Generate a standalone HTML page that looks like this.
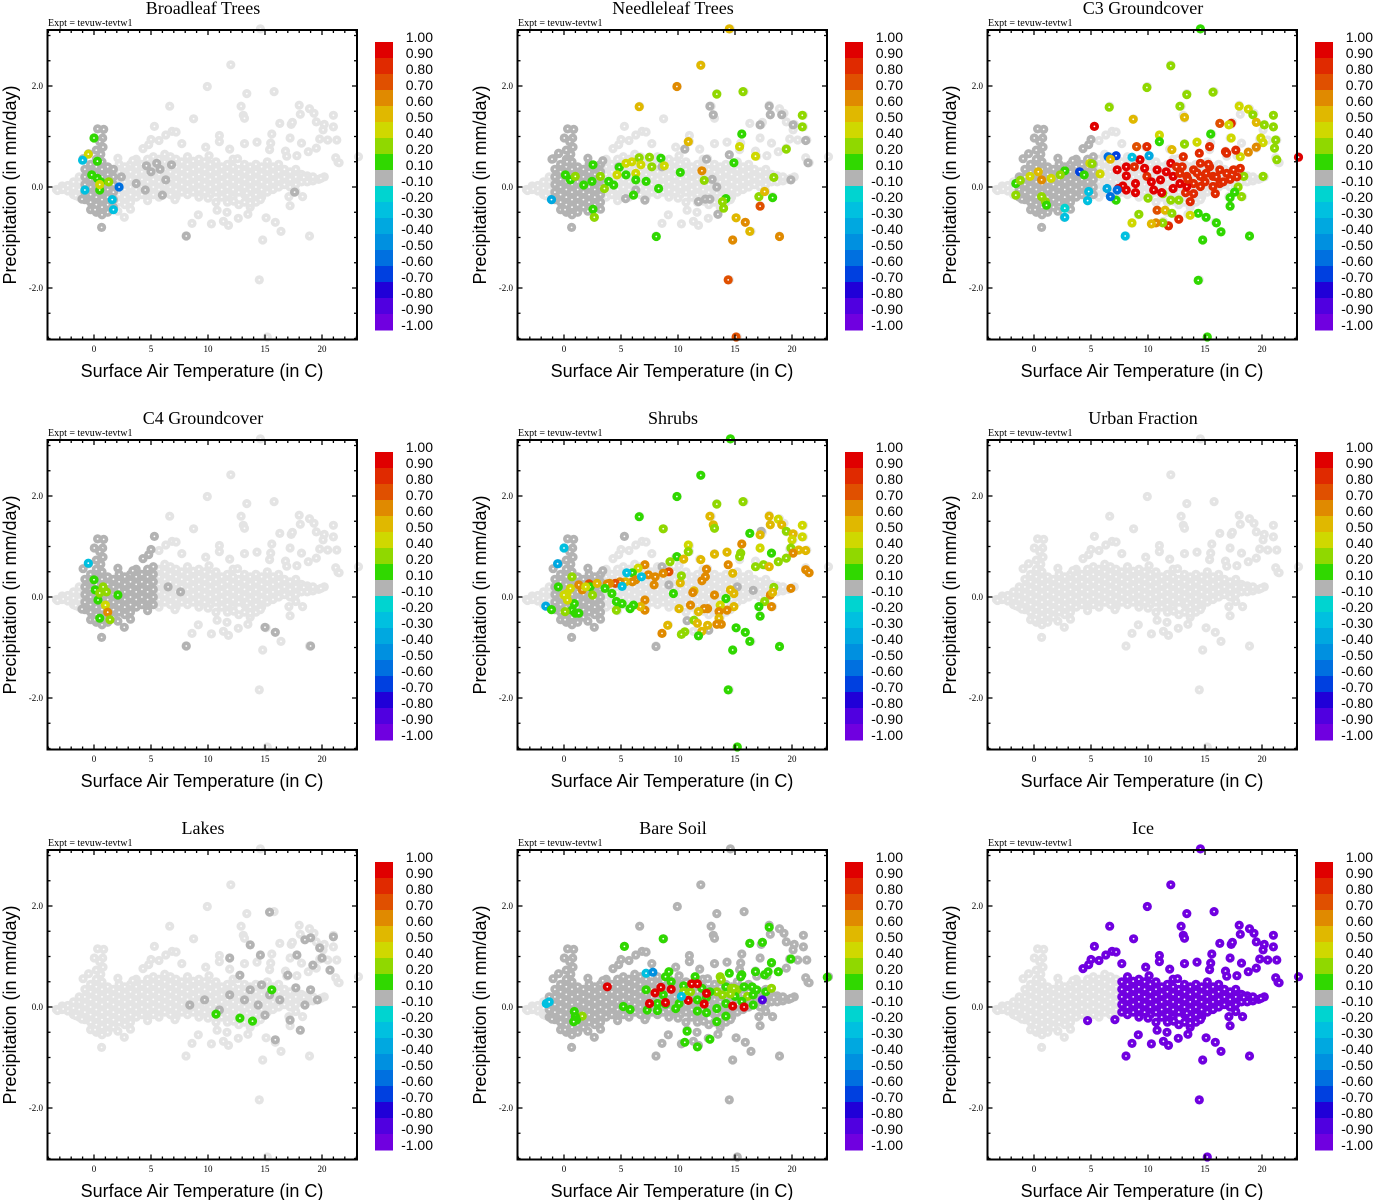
<!DOCTYPE html>
<html><head><meta charset="utf-8"><title>PFT scatter</title>
<style>
html,body{margin:0;padding:0;background:#fff;}
svg{display:block;}
.ttl{font-family:"Liberation Serif",serif;font-size:18px;}
.expt{font-family:"Liberation Serif",serif;font-size:10px;}
.tick{font-family:"Liberation Serif",serif;font-size:9px;}
.axt{font-family:"Liberation Sans",sans-serif;font-size:18px;}
.cbl{font-family:"Liberation Sans",sans-serif;font-size:14px;}
</style></head>
<body>
<svg id="fig" width="1373" height="1200" viewBox="0 0 1373 1200" xmlns="http://www.w3.org/2000/svg"></svg>
<script>
// ---- data ----
const panelTitles = ["Broadleaf Trees","Needleleaf Trees","C3 Groundcover","C4 Groundcover","Shrubs","Urban Fraction","Lakes","Bare Soil","Ice"];
const xTicks = [0,5,10,15,20];
const yTicks = [-2,0,2];
const yTickLabels = ["-2.0","0.0","2.0"];
const cbBounds = [1.0,0.9,0.8,0.7,0.6,0.5,0.4,0.2,0.1,-0.1,-0.2,-0.3,-0.4,-0.5,-0.6,-0.7,-0.8,-0.9,-1.0];
const cbLabels = ["1.00","0.90","0.80","0.70","0.60","0.50","0.40","0.20","0.10","-0.10","-0.20","-0.30","-0.40","-0.50","-0.60","-0.70","-0.80","-0.90","-1.00"];
const cbColors = ["#e00000","#e02a00","#e05000","#e08a00","#e0b800","#cfd800","#90d800","#30d800","#b3b3b3","#00d4d0","#00c0e0","#00a8e0","#0090e0","#0070e0","#0040e0","#2000d8","#5000e0","#7000e0"];

// dense band of base points: [temperature, [precip values]]
const bandCols = [
[-3.3,[-0.05]],[-2.8,[-0.05,0.02]],[-2.3,[-0.08,0.03]],[-1.8,[-0.15,-0.02,0.1]],[-1.3,[-0.2,-0.05,0.1,0.2]],
[-0.8,[-0.25,-0.1,0.05,0.2,0.35]],[-0.3,[-0.45,-0.3,-0.15,0,0.15,0.3,0.45]],[0.2,[-0.5,-0.35,-0.2,-0.05,0.1,0.25,0.4,0.55]],
[0.7,[-0.55,-0.4,-0.25,-0.1,0.05,0.2,0.35,0.5]],[1.2,[-0.5,-0.35,-0.2,-0.05,0.1,0.25,0.4]],[1.7,[-0.4,-0.25,-0.1,0.05,0.2,0.35]],
[2.2,[-0.3,-0.15,0,0.15,0.3,0.45]],[2.7,[-0.35,-0.2,-0.05,0.1,0.25,0.4]],[3.2,[-0.3,-0.15,0,0.15,0.3,0.45]],
[3.7,[-0.2,-0.05,0.1,0.25,0.4,0.55]],[4.2,[-0.15,0,0.15,0.3,0.45]],[4.7,[-0.2,-0.05,0.1,0.25,0.4,0.55]],
[5.2,[-0.15,0,0.15,0.3,0.45,0.6]],[5.7,[-0.2,-0.05,0.1,0.25,0.4,0.55]],[6.2,[-0.1,0.05,0.2,0.35,0.5,0.65]],
[6.7,[-0.15,0,0.15,0.3,0.45,0.6]],[7.2,[-0.2,-0.05,0.1,0.25,0.4,0.55]],[7.7,[-0.1,0.05,0.2,0.35,0.5]],
[8.2,[-0.15,0,0.15,0.3,0.45,0.6]],[8.7,[-0.1,0.05,0.2,0.35,0.5]],[9.2,[-0.2,-0.05,0.1,0.25,0.4,0.55]],
[9.7,[-0.1,0.05,0.2,0.35,0.5]],[10.2,[-0.15,0,0.15,0.3,0.45]],[10.7,[-0.3,-0.1,0.05,0.2,0.35,0.5]],
[11.2,[-0.2,-0.05,0.1,0.25,0.4]],[11.7,[-0.3,-0.15,0,0.15,0.3,0.45]],[12.2,[-0.2,-0.05,0.1,0.25,0.4,0.55]],
[12.7,[-0.35,-0.1,0.05,0.2,0.35]],[13.2,[-0.3,-0.15,0,0.15,0.3,0.45]],[13.7,[-0.4,-0.2,-0.05,0.1,0.25,0.4]],
[14.2,[-0.3,-0.15,0,0.15,0.3,0.45]],[14.7,[-0.2,-0.05,0.1,0.25,0.4]],[15.2,[-0.1,0.05,0.2,0.35,0.5]],
[15.7,[-0.05,0.1,0.25,0.4]],[16.2,[0,0.15,0.3,0.45]],[16.7,[0.05,0.2,0.35]],[17.2,[0,0.15,0.3]],
[17.7,[0.05,0.2,0.35]],[18.2,[0.1,0.25]],[18.7,[0.1,0.22]],[19.2,[0.12,0.2]],[19.7,[0.15]],[20.2,[0.2]]
];
// scattered base points [temperature, precip]
const outliers = [
[12.0,2.42],[9.94,1.99],[13.4,1.85],[15.8,1.89],[6.64,1.6],[12.9,1.6],[13.1,1.42],[13.2,1.36],[8.74,1.35],
[18.0,1.62],[18.9,1.55],[19.3,1.46],[18.1,1.44],[21.0,1.42],[20.2,1.24],[20.1,1.13],[21.0,1.19],[19.5,1.29],
[16.3,1.26],[17.3,1.24],[17.4,1.28],[5.3,1.2],[0.32,1.15],[0.85,1.14],[0.03,0.97],[0.76,0.97],[0.79,0.79],
[-0.96,0.56],[-0.47,0.66],[0.2,0.73],[0.5,0.9],[0.6,0.65],[6.3,1.03],[6.85,1.1],[7.2,1.09],[11.0,1.02],[11.0,0.9],
[7.7,0.86],[15.6,1.05],[15.5,0.87],[15.4,0.74],[17.2,0.97],[18.2,0.87],[16.8,0.71],[17.8,0.62],[16.9,0.61],
[19.8,0.95],[20.5,0.93],[21.3,0.93],[19.5,0.77],[18.8,0.7],[21.2,0.58],[21.4,0.49],[23.2,0.6],[13.2,0.86],
[14.3,0.89],[11.9,0.75],[9.8,0.79],[4.3,0.76],[4.8,0.84],[5.7,0.92],[5.0,0.94],[2.1,0.57],[3.4,0.52],[8.7,0.51],
[10.1,0.62],[12.6,0.56],[0.67,-0.8],[2.66,-0.6],[8.07,-0.97],[8.6,-0.72],[9.15,-0.55],[10.3,-0.73],[10.8,-0.46],
[11.35,-0.68],[11.8,-0.76],[11.67,-0.5],[12.66,-0.62],[13.5,-0.54],[15.1,-0.61],[15.9,-0.7],[16.4,-0.88],
[14.8,-1.05],[17.2,-0.37],[18.9,-0.97],[14.5,-1.84],[4.7,-0.27],[10.0,-0.22],[7.1,-0.25],[2.1,-0.48],[3.2,-0.44],
[0.1,-0.45],[-1.05,-0.24],[-1.6,-0.17],[17.1,-0.19],[18.3,-0.19],[17.7,-0.09],[-3.2,-0.07],[-2.7,-0.04],
[12.25,-0.28],[13.7,-0.32],[14.6,-0.25],[13.4,-0.12],[14.6,3.13],[15.2,-2.97],[19.9,0.17],[18.4,0.19],[21.5,0.48]
];

// per-panel: x-range of base points drawn dark grey (value between -0.1 and 0.1)
const darkRanges = [[-1.2,2.0],[-1.2,3.5],[-1.5,5.5],[-1.2,5.5],[-1.2,3.5],null,null,[-1.3,23.5],null];
// extra dark grey points per panel [temp, precip]
const darkExtras = [
 [[4.6,0.42],[5.5,0.47],[6.3,0.14],[6,-0.16],[8.1,-0.97],[17.6,-0.1],[4.5,-0.06],[3.7,0.07],[6.8,0.44],[2.4,0.2],[5.0,0.3],[5.8,0.35]],
 [[12.8,1.6],[13.1,1.43],[18,1.6],[18.1,1.43],[19.1,1.43],[17.2,1.23],[20.1,1.23],[21.2,0.92],[21.4,0.48],[19.9,0.14],[10.6,0.75],[12.5,0.55],[14.5,0.64],[13,0.15],[13.4,0],[11.8,-0.29],[12.4,-0.24],[12.8,-0.24],[13.5,-0.54],[5.4,-0.23],[7.1,-0.26],[4.8,0.4],[6.3,-0.06],[8.6,0.4],[-1.05,0.55],[-0.47,0.67],[0.26,0.5]],
 [],
 [[8.1,-0.97],[15,-0.6],[15.9,-0.7],[19,-0.97],[7.6,0.1],[6.5,0.2]],
 [[5.3,1.2],[17.3,1.3],[15.2,0.2],[16.6,0.13],[10.8,-0.47],[8.07,-0.98],[12.7,-0.66],[9.2,0.24],[8.6,0.6]],
 [],
 [[15.4,1.88],[19,1.37],[19.8,1.17],[21,1.39],[20,0.97],[20.7,0.73],[19.2,0.83],[17.8,1.03],[18.5,1.33],[14.6,1.03],[12.8,0.63],[13.7,0.34],[14.7,0.44],[16.3,0.14],[15,-0.16],[17.2,-0.26],[15.9,-0.65],[18.1,-0.46],[9.7,0.14],[8.4,0.04],[11.9,0.97],[13.7,1.23],[17,0.63],[11,-0.06],[11.9,0.24],[13.2,0.14],[14.4,0.04],[15.4,0.24],[17.7,0.38],[19,0.34],[19.6,0.14],[18.5,0.04]],
 [],
 []
];
// colored points per panel [temp, precip, value]
const colored = [
 [[0,0.97,0.15],[-0.5,0.65,0.45],[-1,0.53,-0.25],[0.3,0.51,0.15],[-0.2,0.24,0.15],[0.3,0.17,0.15],[0.6,0.1,0.15],[1.3,0.1,0.3],[0.5,-0.06,0.15],[0.5,0.05,0.4],[-0.8,-0.06,-0.25],[1.7,-0.45,-0.3],[1.6,-0.25,-0.3],[2.2,0,-0.55]],
 [[14.5,3.13,0.5],[12.0,2.41,0.5],[9.9,1.99,0.6],[6.6,1.59,0.5],[13.4,1.84,0.3],[15.7,1.89,0.3],[20.9,1.42,0.3],[20.9,1.19,0.3],[15.6,1.05,0.15],[15.4,0.8,0.45],[10.9,0.9,0.55],[16.8,0.61,0.45],[19.5,0.75,0.3],[14.9,0.48,0.15],[12.1,0.32,0.6],[12.3,0.13,0.3],[18.4,0.19,0.3],[10.2,0.29,0.15],[7.2,0.11,0.15],[8.3,-0.03,0.15],[6.1,-0.16,0.15],[14.2,-0.23,0.15],[13.9,-0.29,0.3],[14.0,-0.42,0.3],[17.1,-0.19,0.3],[18.3,-0.21,0.15],[17.6,-0.09,0.5],[17.2,-0.38,0.75],[15.1,-0.61,0.5],[15.9,-0.7,0.6],[16.3,-0.88,0.5],[14.8,-1.05,0.6],[18.9,-0.98,0.6],[8.1,-0.98,0.15],[14.4,-1.84,0.75],[15.1,-2.97,0.75],[-1.1,-0.25,-0.35],
  [0.12,0.24,0.15],[0.56,0.14,0.15],[0.99,0.21,0.3],[1.73,0.04,0.15],[2.54,0.44,0.15],[2.46,0.11,0.15],[3.19,0.21,0.3],[3.54,-0.03,0.3],[3.92,0.11,0.15],[4.36,0.04,0.15],[4.85,0.39,0.15],[4.65,0.24,0.4],[5.44,0.47,0.4],[5.44,0.24,0.15],[5.96,0.5,0.45],[6.3,0.27,0.45],[6.3,0.14,0.15],[6.6,0.58,0.3],[7.5,0.59,0.3],[7.7,0.4,0.3],[8.5,0.57,0.15],[8.8,0.42,0.45],[2.54,-0.44,0.15],[2.66,-0.6,0.3],[6.75,0.44,0.45]],
 [[5.3,1.2,0.95],[8.7,1.34,0.5],[6.6,1.58,0.3],[9.9,1.97,0.3],[12.0,2.4,0.3],[14.6,3.13,0.15],[13.4,1.83,0.3],[15.7,1.88,0.3],[12.8,1.6,0.3],[13.2,1.38,0.5],[16.3,1.26,0.75],[17.3,1.26,0.85],[17.1,1.23,0.4],[18.0,1.6,0.4],[18.8,1.54,0.45],[19.2,1.43,0.3],[19.5,1.28,0.55],[21,1.42,0.3],[20.2,1.23,0.3],[21,1.19,0.3],[19.9,0.97,0.45],[20.1,0.88,0.4],[21.2,0.93,0.3],[19.5,0.79,0.6],[18.8,0.69,0.6],[18.1,0.6,0.45],[17.3,0.97,0.4],[17.7,0.73,0.85],[16.8,0.7,0.85],[15.5,1.05,0.15],[15.4,0.8,0.8],[14.3,0.89,0.4],[13.2,0.85,0.3],[11,1.03,0.45],[11,0.9,0.15],[12.1,0.74,0.5],[9.9,0.8,0.8],[14.5,0.67,0.85],[21.3,0.54,0.3],[23.2,0.59,0.95],[21.1,0.77,0.3],[20.1,0.21,0.3],[18.4,0.21,0.3],[17.9,0.0,0.3],[18.2,-0.19,0.3],[17.6,-0.1,0.15],[17.2,-0.21,0.15],[17.2,-0.38,0.15],[18.9,-0.97,0.15],[14.8,-1.05,0.15],[14.4,-1.85,0.15],[16,-0.71,0.15],[16.4,-0.89,0.15],[15.1,-0.6,0.15],[14.4,-0.52,0.15],[13.7,-0.56,0.45],[12.7,-0.64,0.85],[11.8,-0.77,0.8],[11.3,-0.71,0.3],[10.7,-0.71,0.6],[10.3,-0.73,0.5],[10.8,-0.46,0.75],[11.5,-0.46,0.55],[12.1,-0.52,0.3],[12.7,-0.26,0.3],[13.3,-0.11,0.85],[13.7,-0.29,0.85],[9.2,-0.54,0.3],[8.6,-0.71,0.45],[8.0,-0.97,-0.25],[7.2,-0.26,0.15],[10,-0.22,0.3],[11.3,-0.13,0.3],[12,-0.26,0.3],[15.2,-2.97,0.15],
  [7.3,0.34,0.9],[8.1,0.4,0.9],[8.8,0.4,0.85],[9.3,0.54,0.9],[8.1,0.22,0.9],[8.9,0.07,0.9],[7.8,0.02,0.9],[7.4,-0.03,0.9],[8.1,-0.06,0.9],[8.9,-0.11,0.9],[9.9,0.21,0.85],[10.8,0.34,0.9],[11.1,0.14,0.9],[10.5,-0.06,0.9],[11.2,-0.11,0.9],[12,0.47,0.9],[12.5,0.4,0.85],[12.2,0.21,0.9],[12.8,0.27,0.85],[13.4,0.21,0.85],[14,0.34,0.85],[14.6,0.21,0.85],[15.1,0.27,0.85],[15.7,0.21,0.85],[16.3,0.34,0.85],[16.9,0.27,0.85],[17.5,0.34,0.85],[18.1,0.37,0.85],[15.7,0.01,0.85],[16.3,0.07,0.85],[14.6,0.01,0.85],[14,0.07,0.85],[13.4,0.01,0.9],[12.8,0.07,0.9],[12.2,-0.03,0.9],[14.6,0.47,0.85],[15.4,0.4,0.85],[16.9,0.67,0.85],[14,-0.13,0.85],[15.9,-0.13,0.85],[13.1,0.6,0.85],[9.7,0.37,0.9],[9,0.8,0.75],
  [13.5,0.15,0.85],[14.3,0.28,0.85],[15.0,0.1,0.85],[16.0,0.2,0.85],[16.6,0.1,0.85],[17.2,0.15,0.85],[13.0,0.4,0.85],[11.6,0.3,0.9],[10.3,0.1,0.9],[15.3,0.45,0.85],[17.8,0.2,0.85],
  [7.2,0.62,-0.65],[6.5,0.6,-0.6],[8.6,0.59,-0.3],[10.1,0.62,-0.35],[4,0.3,-0.7],[4.9,0.47,0.45],[5.8,0.26,0.45],[4.8,-0.09,-0.3],[4.7,-0.27,-0.3],[6.4,-0.03,-0.35],[6.7,-0.19,-0.6],[7.3,-0.06,-0.55],[2.7,-0.6,-0.3],[2.7,-0.42,-0.2],[6.7,0.55,0.5],
  [-1.6,0.07,0.15],[-1.6,-0.16,0.3],[-0.35,0.21,0.45],[0.67,0.14,0.6],[0.38,0.3,0.5],[0.67,-0.19,0.3],[1,-0.29,0.3],[1.1,-0.36,0.15],[1.5,0.17,0.4],[2.7,0.32,0.15],[2.3,0.24,0.3],[4.4,0.24,0.15],[5.1,0.46,0.3],[-1.2,0.13,0.3]],
 [[-0.5,0.67,-0.25],[0,0.34,0.15],[0.1,0.14,0.15],[0.35,-0.06,0.15],[1,-0.16,0.45],[1.2,-0.3,0.6],[0.5,0.08,0.3],[2.1,0.04,0.15],[1.4,-0.45,0.3],[0.5,-0.42,0.15],[0.8,0.2,0.3],[1.1,0.1,0.3]],
 [[14.6,3.13,0.15],[12,2.41,0.15],[9.9,1.99,0.15],[6.6,1.59,0.15],[8.7,1.35,0.3],[13.4,1.84,0.3],[15.7,1.89,0.3],[12.8,1.6,0.5],[13.1,1.43,0.5],[13.2,1.36,0.3],[18,1.6,0.5],[18.1,1.43,0.5],[18.8,1.54,0.4],[19.1,1.43,0.5],[19.5,1.3,0.3],[20.9,1.42,0.4],[20.1,1.25,0.55],[20.9,1.19,0.45],[20,1.13,0.45],[16.3,1.26,0.15],[17.2,1.23,0.5],[17.2,0.97,0.45],[15.6,1.05,0.6],[15.5,0.87,0.3],[15.4,0.8,0.3],[14.3,0.89,0.55],[13.2,0.85,0.55],[10.9,1.03,0.45],[10.9,0.9,0.3],[12,0.74,0.5],[9.9,0.8,0.15],[10.5,0.75,0.55],[9.3,0.7,0.3],[19.9,0.97,0.3],[20.6,0.93,0.55],[21.2,0.92,0.55],[20.1,0.87,0.6],[19.5,0.77,0.3],[18.8,0.7,0.3],[18.2,0.87,0.15],[17.5,0.64,0.3],[18,0.6,0.5],[16.8,0.6,0.3],[14.4,0.64,0.6],[14.8,0.47,0.5],[12.4,0.4,0.6],[12.5,0.55,0.6],[21.2,0.54,0.6],[21.5,0.48,0.6],[19.9,0.17,0.6],[18.4,0.19,0.3],[18.1,0.04,0.6],[18.3,0.09,0.55],[17.6,-0.09,0.3],[18.2,-0.19,0.6],[17.2,-0.38,0.15],[17.1,-0.19,0.15],[16.3,-0.88,0.15],[15.9,-0.7,0.15],[15.1,-0.61,0.15],[14.8,-1.05,0.15],[18.9,-0.98,0.15],[14.4,-1.84,0.15],[15.2,-2.97,0.15],[14.9,0.07,0.5],[14.6,0.14,0.5],[14.2,-0.03,0.15],[14.9,-0.19,0.5],[14.3,-0.26,0.6],[13.7,-0.16,0.45],[13.6,-0.29,0.6],[13.2,0.04,0.6],[12.6,-0.23,0.6],[12.3,-0.23,0.6],[11.8,-0.29,0.5],[11.1,-0.16,0.6],[11.4,0.12,0.5],[13.6,-0.42,0.5],[13.8,-0.54,0.6],[13.4,-0.54,0.6],[12.6,-0.56,0.5],[12.1,-0.68,0.5],[11.4,-0.46,0.3],[11.7,-0.52,0.5],[10.6,-0.69,0.3],[10.3,-0.74,0.3],[11.8,-0.77,0.15],[9.1,-0.56,0.5],[8.6,-0.72,0.6],[10.1,-0.23,0.5],[11.3,0.09,0.6],[12.1,0.32,0.6],[9.6,0.07,0.15],[10.2,0.28,0.5],[10.3,0.42,0.3],[9.2,0.5,0.75],[8.7,0.47,0.6],[8,0.4,0.6],[7.9,0.24,0.6],[7.4,0.44,0.6],[7.1,0.64,0.6],[6.5,0.57,0.4],[6,0.48,0.15],[6.3,0.34,0.6],[6,0.3,0.6],[5.4,0.3,0.5],[4.9,0.3,0.6],[4.5,0.27,0.75],[4,0.27,0.6],[3.8,0.26,0.6],[7.1,-0.06,0.6],[7.1,-0.26,0.6],[6.7,-0.19,0.5],[6.1,-0.16,0.15],[5.8,-0.23,0.15],[4.6,-0.26,0.3],[5.1,-0.13,0.15],[4.6,-0.09,0.15],[4.2,0.07,0.15],[3.6,0.17,0.15],[5.5,0.48,-0.25],[6.8,0.4,-0.3],[5.1,0.21,-0.3],[0,0.97,-0.3],[-0.56,0.66,-0.35],[-1.6,-0.18,-0.35],[-1.1,-0.25,0.15],
  [-0.5,0.2,0.15],[0.26,0.07,0.45],[0.7,0.4,0.3],[0.56,0.17,0.45],[1.3,0.24,0.6],[1.6,0.14,0.6],[2.2,0.26,0.75],[2.3,0.2,0.15],[2.9,0.27,0.5],[2.5,0.04,0.3],[0.9,-0.13,0.15],[0.7,-0.26,0.15],[1,-0.32,0.15],[1.3,-0.32,0.15],[0.1,-0.29,0.3],[0.3,-0.06,0.4],[0,0.04,0.4],[1.9,0.2,0.4]],
 [],
 [[10.7,-0.14,0.15],[12.8,-0.22,0.15],[13.9,-0.28,0.15],[15.6,0.34,0.15]],
 [[5.3,1.2,0.15],[8.7,1.35,0.15],[18,1.58,0.15],[16.3,1.26,0.15],[17.4,1.28,0.15],[19.9,0.95,0.15],[18.2,0.88,0.15],[18.8,0.7,0.15],[16.8,0.7,0.15],[17.6,0.64,0.15],[17.9,0.7,0.15],[23.1,0.59,0.15],[14.5,0.67,0.15],[15.6,0.64,0.15],[13.7,0.6,0.3],[9.2,0.7,0.15],[8.9,0.6,0.15],[9.4,0.5,0.15],[11.5,0.6,0.15],[10.5,0.42,0.15],[7.2,0.34,0.15],[8.7,0.24,0.15],[8.2,0.07,0.15],[7.3,-0.06,0.15],[8.2,-0.07,0.15],[8.9,0.06,0.15],[9.8,-0.03,0.15],[10.1,0.07,0.15],[10.5,0.3,0.3],[11.1,0.3,0.3],[12.1,0.37,0.15],[11.7,0.14,0.15],[11.7,-0.08,0.15],[12.5,-0.11,0.15],[13.4,-0.29,0.15],[13.4,-0.03,0.15],[14.2,-0.18,0.15],[14.2,0.07,0.15],[13.4,0.3,0.3],[13.9,0.24,0.3],[14.2,0.4,0.15],[14.7,0.37,0.3],[15.2,0.34,0.3],[15,0.21,0.15],[14.6,0.26,0.3],[15.8,0.4,0.15],[16.1,0.21,0.3],[16.5,0.4,0.15],[16.6,0.24,0.15],[16.9,0.34,0.15],[16.6,0.04,0.15],[17.7,0.3,0.15],[18.2,0.37,0.3],[15.6,0.11,0.15],[15.5,0.6,0.15],[12.5,0.19,0.15],[12.8,0.3,0.15],[10.8,-0.48,0.15],[10.6,-0.7,0.15],[11.7,-0.79,0.15],[12.8,-0.64,0.15],[5.8,-0.05,0.15],[5.2,0.01,0.15],[13.8,0.54,0.3],[14.9,0.37,0.3],[1.6,-0.18,0.3],
  [3.8,0.4,0.95],[7.98,0.28,0.95],[8.5,0.39,0.95],[9.4,0.35,0.95],[7.5,0.07,0.95],[8.9,0.09,0.95],[10.9,0.13,0.95],[11.2,0.46,0.95],[11.7,0.46,0.95],[12.5,0.27,0.95],[12.3,0.06,0.95],[14.8,0.02,0.95],[15.8,0.0,0.95],
  [0.9,-0.09,0.15],[1,-0.19,0.15],[1.1,-0.26,0.15],[0.85,-0.29,0.15],[-1.55,0.07,-0.3],[-1.3,0.1,-0.3],[10.3,0.21,-0.25],[7.2,0.67,-0.3],[7.8,0.69,-0.45],[17.4,0.14,-0.9]],
 []
];
// Ice panel thresholds: band points / scattered points warmer than these get the ice value
const iceMinTempBand = 7.5;
const iceMinTempOutlier = 4.0;
const iceValue = -0.95;

// ---- drawing ----
const NS = "http://www.w3.org/2000/svg";
const fig = document.getElementById("fig");
const LIGHT = "#e4e4e4", DARK = "#b3b3b3";
const basePts = [];
bandCols.forEach(c => c[1].forEach(p => basePts.push([c[0], p, 0])));
outliers.forEach(o => basePts.push([o[0], o[1], 1]));

function el(tag, attrs, parent) {
  const e = document.createElementNS(NS, tag);
  for (const k in attrs) e.setAttribute(k, attrs[k]);
  parent.appendChild(e);
  return e;
}
function colorOf(v) {
  for (let i = 0; i < cbColors.length; i++) {
    if (v <= cbBounds[i] && v >= cbBounds[i + 1]) return cbColors[i];
  }
  return v > 1 ? cbColors[0] : cbColors[cbColors.length - 1];
}
const X0 = 94, XU = 11.4, Y0 = 187, YU = 50.5;
const BL = 47.5, BR = 357, BT = 30, BB = 339.5;
function sx(t) { return X0 + t * XU; }
function sy(p) { return Y0 - p * YU; }
function isIcePt(pt) { return pt[2] === 1 ? pt[0] >= iceMinTempOutlier : pt[0] >= iceMinTempBand; }

function marker(g, t, p, fill) {
  const cx = sx(t), cy = sy(p);
  if (cx < BL - 4 || cx > BR + 5 || cy < BT - 4 || cy > BB + 4) return;
  const c = el("circle", {cx: cx.toFixed(1), cy: cy.toFixed(1), r: 4.6, fill: fill}, g);
  
  
  el("circle", {cx: cx.toFixed(1), cy: cy.toFixed(1), r: 0.9, fill: "#fff"}, g);
}

panelTitles.forEach((title, k) => {
  const col = k % 3, row = Math.floor(k / 3);
  const g = el("g", {transform: `translate(${col * 470},${row * 410})`}, fig);
  
  

  const tt = el("text", {x: 203, y: 14, "text-anchor": "middle", class: "ttl"}, g);
  tt.textContent = title;
  
  
  const ex = el("text", {x: 48, y: 26, class: "expt"}, g);
  ex.textContent = "Expt = tevuw-tevtw1";
  
  

  const pg = el("g", {}, g);
  
  
  const dr = darkRanges[k];
  const isIce = (k === 8);
  basePts.forEach(pt => {
    const t = pt[0], p = pt[1];
    if (dr && t >= dr[0] && t <= dr[1]) return;
    if (isIce && isIcePt(pt)) return;
    marker(pg, t, p, LIGHT);
  });
  if (dr) basePts.forEach(([t, p]) => { if (t >= dr[0] && t <= dr[1]) marker(pg, t, p, DARK); });
  darkExtras[k].forEach(([t, p]) => marker(pg, t, p, DARK));
  if (isIce) basePts.forEach(pt => { if (isIcePt(pt)) marker(pg, pt[0], pt[1], colorOf(iceValue)); });
  colored[k].forEach(([t, p, v]) => marker(pg, t, p, colorOf(v)));

  const fr = el("rect", {x: BL, y: BT, width: BR - BL, height: BB - BT, fill: "none", stroke: "#000", "stroke-width": 2}, g);
  
  
  for (let t = -4; t <= 23; t++) {
    const major = xTicks.includes(t);
    const L = major ? 5 : 3, x = sx(t);
    el("line", {x1: x, y1: BB, x2: x, y2: BB - L, stroke: "#000", "stroke-width": 1.3}, g);
    el("line", {x1: x, y1: BT, x2: x, y2: BT + L, stroke: "#000", "stroke-width": 1.3}, g);
  }
  xTicks.forEach(t => {
    const tl = el("text", {x: sx(t), y: 352, "text-anchor": "middle", class: "tick"}, g);
    tl.textContent = String(t);
    
    
  });
  for (let i = -6; i <= 6; i++) {
    const p = i * 0.5, y = sy(p);
    const major = (i % 4 === 0);
    const L = major ? 5 : 3;
    el("line", {x1: BL, y1: y, x2: BL + L, y2: y, stroke: "#000", "stroke-width": 1.3}, g);
    el("line", {x1: BR, y1: y, x2: BR - L, y2: y, stroke: "#000", "stroke-width": 1.3}, g);
  }
  yTicks.forEach((p, i) => {
    const tl = el("text", {x: 43, y: sy(p) + 3, "text-anchor": "end", class: "tick"}, g);
    tl.textContent = yTickLabels[i];
    
    
  });
  const xt = el("text", {x: 202, y: 377, "text-anchor": "middle", class: "axt"}, g);
  xt.textContent = "Surface Air Temperature (in C)";
  
  
  const yt = el("text", {x: 0, y: 0, "text-anchor": "middle", class: "axt", transform: "translate(16,185) rotate(-90)"}, g);
  yt.textContent = "Precipitation (in mm/day)";
  
  

  const cb = el("g", {}, g);
  
  
  cbColors.forEach((c, i) => {
    const r = el("rect", {x: 375, y: 42 + i * 16, width: 18, height: 16.5, fill: c}, cb);
    
    
  });
  cbLabels.forEach((s, i) => {
    const tl = el("text", {x: 433, y: 42 + i * 16, "text-anchor": "end", class: "cbl"}, cb);
    tl.textContent = s;
    
    
  });
});
</script>
</body></html>
